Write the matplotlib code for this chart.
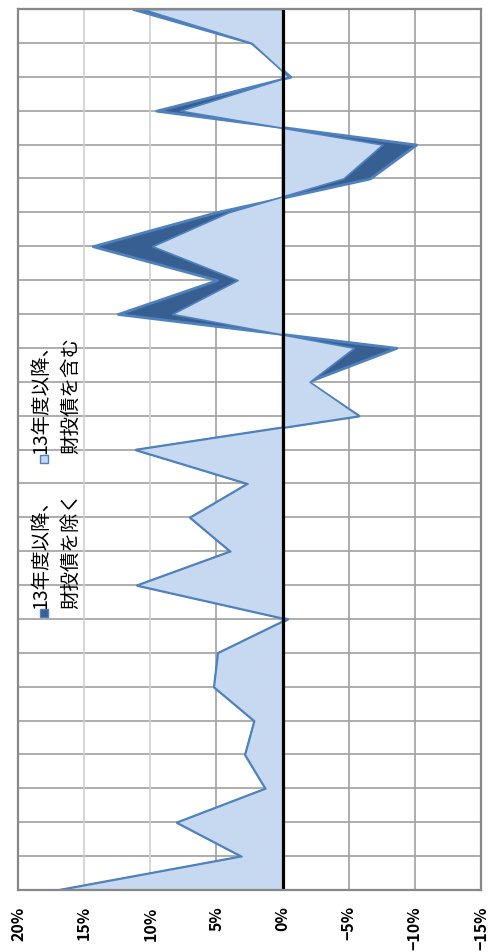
import matplotlib
matplotlib.use("Agg")
import matplotlib.pyplot as plt
from matplotlib.patches import Rectangle

plt.rcParams['font.family'] = ['Noto Sans CJK JP', 'DejaVu Sans']

# ---- data (fiscal years, bottom -> top in the rotated chart) ----
years = list(range(1986, 2013))
incl_filp = [17.0, 3.1, 8.0, 1.3, 2.85, 2.15, 5.2, 4.9, -0.35, 11.0,
             3.95, 7.0, 2.65, 11.1, -5.75, -2.05, -5.4, 8.35, 3.4, 9.85,
             4.1, -4.6, -7.55, 7.75, -0.45, 2.35, 10.6]
excl_filp = [17.0, 3.1, 8.0, 1.3, 2.85, 2.15, 5.2, 4.9, -0.35, 11.0,
             3.95, 7.0, 2.65, 11.1, -5.75, -1.9, -8.6, 12.45, 4.95, 14.35,
             5.05, -6.6, -10.1, 9.55, -0.6, 2.35, 11.3]
series_names = ["13年度以降、\n財投債を除く", "13年度以降、\n財投債を含む"]
tick_vals = [20, 15, 10, 5, 0, -5, -10, -15]
tick_labels = ["20%", "15%", "10%", "5%", "0%", "\u22125%", "\u221210%", "\u221215%"]

W, H = 488, 953
fig = plt.figure(figsize=(W / 100, H / 100), dpi=100)
ax = fig.add_axes([18 / W, (H - 891) / H, (481 - 18) / W, (891 - 10) / H])

pos = list(range(len(years)))
dark_fill = "#375F92"
light_fill = "#C6D9F0"
edge = "#4F81BD"

ax.fill_betweenx(pos, 0, excl_filp, facecolor=dark_fill, edgecolor=edge,
                 linewidth=2.0, zorder=3)
ax.fill_betweenx(pos, 0, incl_filp, facecolor=light_fill, edgecolor=edge,
                 linewidth=1.2, zorder=4)
ax.axvline(0, color="black", linewidth=2.3, zorder=6)

# gridlines
for p in pos[1:-1]:
    ax.axhline(p, color="#A0A0A0", linewidth=1.2, zorder=1)
for v in tick_vals[1:-1]:
    if v == 0:
        continue
    c = "#D0D0D0" if v in (15, 10) else "#A0A0A0"
    ax.axvline(v, color=c, linewidth=1.2, zorder=1)

ax.set_xlim(20, -15)
ax.set_ylim(0, len(years) - 1)
ax.set_xticks(tick_vals)
ax.set_xticklabels(tick_labels, rotation=90, va="top", ha="center",
                   fontsize=11.5, fontweight="bold")
ax.tick_params(axis="x", length=0, pad=11)
ax.set_yticks([])
for s in ax.spines.values():
    s.set_color("#888888")
    s.set_linewidth(1.6)
    s.set_zorder(7)

# legend (rotated, drawn manually)
def fx(px):
    return px / W

def fy(py):
    return (H - py) / H

entries = [(series_names[0], dark_fill, 614, 609),
           (series_names[1], light_fill, 460, 454)]
for name, col, sq_y, txt_y in entries:
    fig.patches.append(Rectangle((fx(40), fy(sq_y + 4)), 8 / W, 8 / H,
                                 transform=fig.transFigure, facecolor=col,
                                 edgecolor=edge, linewidth=1.0, zorder=10))
    fig.text(fx(30), fy(txt_y), name, rotation=90, rotation_mode="anchor",
             ha="left", va="top", fontsize=14, linespacing=1.6,
             zorder=10)

fig.savefig("out.png", dpi=100)
